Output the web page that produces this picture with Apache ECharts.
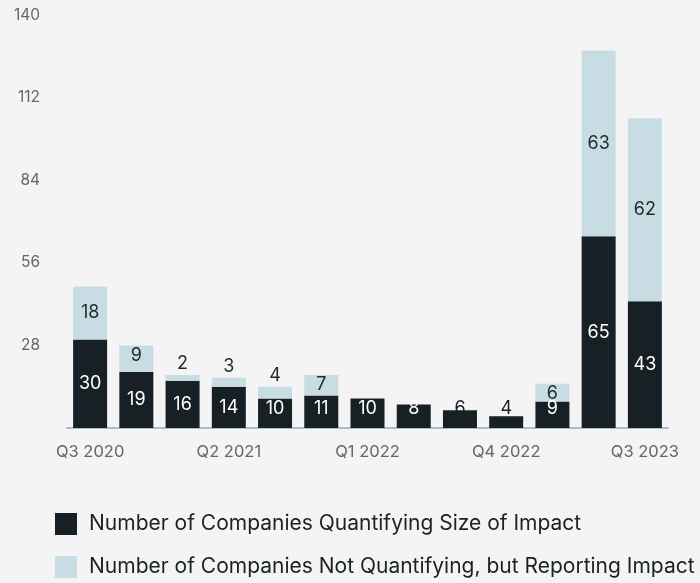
<!DOCTYPE html>
<html>
<head>
<meta charset="utf-8">
<title>Companies reporting impact</title>
<script src="https://cdn.jsdelivr.net/npm/echarts@6/dist/echarts.min.js"></script>
<style>
  html, body { margin: 0; padding: 0; background: #f4f4f4; }
  #chart { width: 700px; height: 583px; }
</style>
</head>
<body>
<div id="chart"></div>
<script>
  // quarters on the x axis
  var quarters = ['Q3 2020', 'Q4 2020', 'Q1 2021', 'Q2 2021', 'Q3 2021', 'Q4 2021', 'Q1 2022',
    'Q2 2022', 'Q3 2022', 'Q4 2022', 'Q1 2023', 'Q2 2023', 'Q3 2023'];
  var quantifying = [30, 19, 16, 14, 10, 11, 10, 8, 6, 4, 9, 65, 43];
  var notQuantifying = [18, 9, 2, 3, 4, 7, 0, 0, 0, 0, 6, 63, 62];
  var yTicks = [0, 28, 56, 84, 112, 140];

  var dark = '#172125';
  var light = '#c8dde3';

  // 小的柱子标签放在外面
  var darkData = quantifying.map(function (v) {
    if (v >= 14) return { value: v, label: { position: 'inside', color: '#ffffff' } };
    if (v >= 8) return { value: v, label: { position: 'insideBottom', distance: 10, color: '#ffffff' } };
    return { value: v, label: { position: 'insideBottom', distance: 10, color: dark } };
  });

  var lightData = notQuantifying.map(function (v) {
    if (v === 0) return { value: v, label: { show: false } };
    if (v < 6) return { value: v, label: { position: 'top', distance: 2 } };
    if (v < 10) return { value: v, label: { position: 'insideTop', distance: 1 } };
    return { value: v, label: { position: 'inside' } };
  });

  var myChart = echarts.init(document.getElementById('chart'));
  var option = {
    backgroundColor: '#f4f4f4',
    animation: false,
    textStyle: { fontFamily: 'Inter' },
    grid: { left: 67, right: 32, top: 15, bottom: 155 },
    legend: {
      orient: 'vertical',
      left: 55,
      top: 513,
      padding: 0,
      itemWidth: 22,
      itemHeight: 22,
      itemGap: 21,
      icon: 'rect',
      textStyle: { fontSize: 21, color: '#1a2226', padding: [0, 0, 0, 7] },
      data: ['Number of Companies Quantifying Size of Impact',
        'Number of Companies Not Quantifying, but Reporting Impact']
    },
    xAxis: {
      type: 'category',
      data: quarters,
      axisLine: { show: true, lineStyle: { color: '#a9bfc4', width: 2 } },
      axisTick: { show: false },
      axisLabel: { interval: 2, color: '#666666', fontSize: 16.5, margin: 16 }
    },
    yAxis: {
      type: 'value',
      min: yTicks[0],
      max: yTicks[yTicks.length - 1],
      interval: 28,
      axisLine: { show: false },
      axisTick: { show: false },
      splitLine: { show: false },
      axisLabel: { color: '#666666', fontSize: 15.5, margin: 27, showMinLabel: false }
    },
    series: [{
      name: 'Number of Companies Quantifying Size of Impact',
      type: 'bar',
      stack: 'total',
      barWidth: 34,
      itemStyle: { color: dark },
      label: { show: true, fontSize: 18 },
      data: darkData
    }, {
      name: 'Number of Companies Not Quantifying, but Reporting Impact',
      type: 'bar',
      stack: 'total',
      barWidth: 34,
      itemStyle: { color: light },
      label: { show: true, fontSize: 18, color: '#1f2a2d' },
      data: lightData
    }]
  };
  myChart.setOption(option);
</script>
</body>
</html>
